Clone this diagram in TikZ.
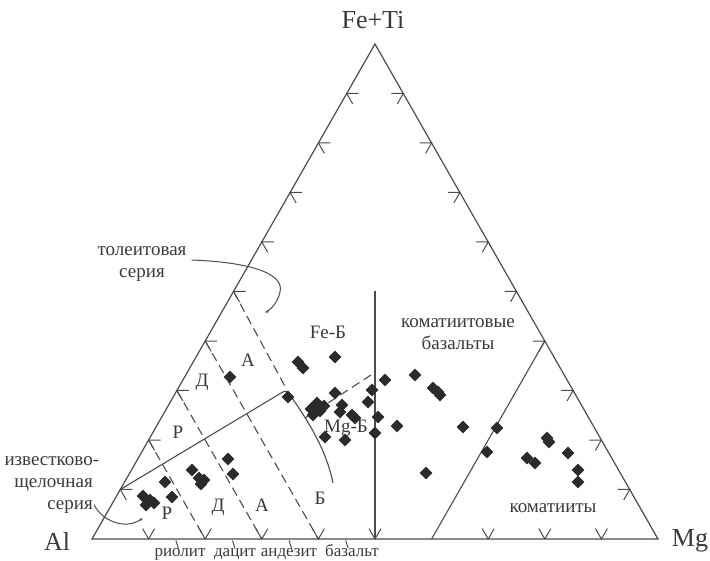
\documentclass[tikz,border=0pt]{standalone}
\usepackage{fontspec}
\setmainfont{Liberation Serif}
\usetikzlibrary{calc,arrows.meta,shapes.geometric}
\definecolor{edge}{HTML}{4C4C4C}
\definecolor{dotfill}{HTML}{2B2B2B}
\definecolor{ink}{HTML}{3A3A3A}
\tikzset{
    side/.style = {draw=edge, line width=1.2pt},
    bound/.style = {draw=edge, line width=1.1pt},
    dashbound/.style = {draw=edge, line width=1.1pt, dash pattern=on 9pt off 5pt},
    tickmark/.style = {draw=edge, line width=1pt},
    sample/.style = {diamond, fill=dotfill, inner sep=0pt,
        minimum width=13pt,
        minimum height=13pt},
    field/.style = {text=ink, font=\fontsize{19}{22}\selectfont, inner sep=1pt},
    rock/.style = {text=ink, font=\fontsize{17}{20}\selectfont, inner sep=1pt, anchor=base},
    apex/.style = {text=ink, font=\fontsize{26}{30}\selectfont, inner sep=1pt},
    leader/.style = {draw=edge, line width=1pt, -{Latex[length=3.5pt,width=3pt]}}
}

\begin{document}
\begin{tikzpicture}[x=1pt, y=-1pt]
                \useasboundingbox (0,0) rectangle (710,561);
                \coordinate (Al) at (92,539);
                \coordinate (Mg) at (658,539);
                \coordinate (Fe) at (375,44);
                \coordinate (kink) at (287,390);
                \coordinate (tholtip) at (265,313);
                \coordinate (calctip) at (143,518);
                \draw[side] (Al) -- (Mg) -- (Fe) -- cycle;
                \foreach \k in {1,...,9} {
                    \draw[tickmark] ($(Al)!0.\k!(Fe)$) +(12,0) -- ($(Al)!0.\k!(Fe)$) -- +(6,10.4);
                    \draw[tickmark] ($(Fe)!0.\k!(Mg)$) +(-12,0) -- ($(Fe)!0.\k!(Mg)$) -- +(-6,10.4);
                }
                \foreach \k in {1,2,3,4,5,7,8,9}
                    \draw[tickmark] ($(Al)!0.\k!(Mg)$) +(-6,-10.4) -- ($(Al)!0.\k!(Mg)$) -- +(6,-10.4);
                \foreach \s in {15,25,35,45}
                    \draw[tickmark] ($(Al)!0.\s!(Mg)+(-1,1.5)$) -- +(2.5,8);
                \draw[dashbound] ($(Al)!0.2!(Fe)$) -- ($(Al)!0.2!(Mg)$);
                \draw[dashbound] ($(Al)!0.3!(Fe)$) -- ($(Al)!0.3!(Mg)$);
                \draw[dashbound] ($(Al)!0.4!(Fe)$) -- ($(Al)!0.4!(Mg)$);
                \draw[dashbound] ($(Al)!0.5!(Fe)$) -- (kink);
                \draw[bound] ($(Al)!0.1!(Fe)$) -- (282,392.5) .. controls (285,390.5) and (288,391) .. (290,395)
                    .. controls (306,418) and (326,448) .. (333,483);
                \draw[dashbound] (305,418) -- (371,375);
                \draw[bound] ($(Al)!0.5!(Mg)!0.5!(Fe)$) -- ($(Al)!0.5!(Mg)$);
                \draw[bound] ($(Al)!0.6!(Mg)$) -- ($(Fe)!0.6!(Mg)$);
                \node[apex] (fetilab) at (373,20) {Fe+Ti};
                \node[apex] (allab) at (57,541) {Al};
                \node[apex] (mglab) at (690,541) {Mg};
                \node[field] (rhyT) at (178,432) {Р};
                \node[field] (dacT) at (202,382) {Д};
                \node[field] (andT) at (248,360) {А};
                \node[field] (rhyC) at (167,513) {Р};
                \node[field] (dacC) at (218,507) {Д};
                \node[field] (andC) at (262,505) {А};
                \node[field] (basC) at (320,498) {Б};
                \node[field] (febas) at (328,332) {Fe-Б};
                \node[field] (mgbas) at (346,428) {Mg-Б};
                \node[field, align=center] (kombas) at (458,334) {коматиитовые\\базальты};
                \node[field] (komat) at (553,508) {коматииты};
                \node[rock] (rio) at (180,556) {риолит};
                \node[rock] (dac) at (235,556) {дацит};
                \node[rock] (ande) at (289,556) {андезит};
                \node[rock] (bas) at (352,556) {базальт};
                \node[field, align=center] (thol) at (142,264) {толеитовая\\серия};
                \node[field, align=right, anchor=east] (calk) at (94,485) {известково\rlap{-}\\щелочная\\серия};
                \draw[leader] ([shift={(4,-4)}]thol.east) .. controls (245,262) and (285,272) .. (280,292)
                    .. controls (278,302) and (271,309) .. (tholtip);
                \draw[leader] ([yshift=10pt]calk.south east) .. controls (102,521) and (125,530) .. (calctip);
                \foreach \px/\py [count=\i] in {143/496, 150/500, 146/505, 154/503,
                    165/482, 172/497, 192/470, 199/478, 204/480, 201/484,
                    228/459, 233/474, 230/377, 298/362, 303/368, 335/357, 288/397,
                    311/409, 317/403, 324/406, 313/415, 320/411,
                    335/393, 342/405, 340/412, 352/415, 355/418, 325/437, 345/440,
                    372/390, 368/402, 385/380, 378/417, 375/433, 397/426,
                    415/375, 433/388, 438/392, 440/395,
                    463/427, 497/428, 487/452, 426/473,
                    547/438, 549/442, 568/453, 527/458, 535/463, 578/470, 578/482}
                    \node[sample] (s\i) at (\px,\py) {};
            \end{tikzpicture}
\end{document}
